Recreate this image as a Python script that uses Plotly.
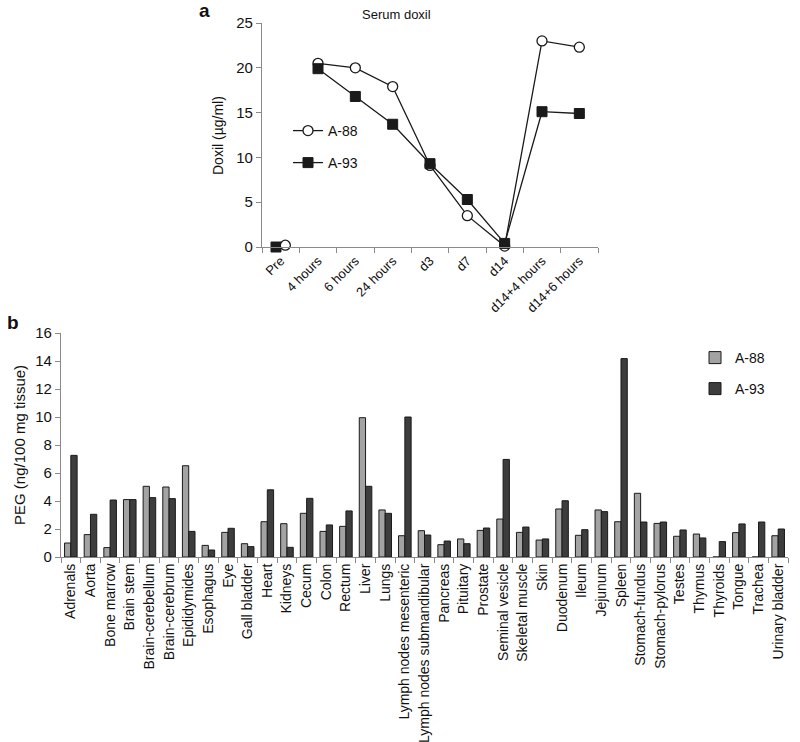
import plotly.graph_objects as go

# ---- Panel a: serum doxil ----
time_points = ["Pre", "4 hours", "6 hours", "24 hours", "d3", "d7", "d14",
               "d14+4 hours", "d14+6 hours"]
serum_a88 = [0.2, 20.5, 20.0, 17.9, 9.1, 3.5, 0.1, 23.0, 22.3]
serum_a93 = [0.0, 19.9, 16.8, 13.7, 9.3, 5.3, 0.4, 15.1, 14.9]

# ---- Panel b: PEG in tissues ----
tissues = ["Adrenals", "Aorta", "Bone marrow", "Brain stem", "Brain-cerebellum",
           "Brain-cerebrum", "Epididymides", "Esophagus", "Eye", "Gall bladder",
           "Heart", "Kidneys", "Cecum", "Colon", "Rectum", "Liver", "Lungs",
           "Lymph nodes mesenteric", "Lymph nodes submandibular", "Pancreas",
           "Pituitary", "Prostate", "Seminal vesicle", "Skeletal muscle", "Skin",
           "Duodenum", "Ileum", "Jejunum", "Spleen", "Stomach-fundus",
           "Stomach-pylorus", "Testes", "Thymus", "Thyroids", "Tongue", "Trachea",
           "Urinary bladder"]
peg_a88 = [1.0, 1.6, 0.67, 4.1, 5.05, 5.0, 6.52, 0.83, 1.76, 0.95,
           2.52, 2.38, 3.12, 1.83, 2.19, 9.95, 3.36, 1.52, 1.88, 0.88,
           1.29, 1.9, 2.71, 1.76, 1.21, 3.43, 1.55, 3.36, 2.52, 4.55,
           2.4, 1.48, 1.64, 0.0, 1.74, 0.0, 1.52]
peg_a93 = [7.26, 3.05, 4.07, 4.1, 4.24, 4.17, 1.83, 0.5, 2.05, 0.74,
           4.8, 0.69, 4.19, 2.29, 3.29, 5.05, 3.12, 10.0, 1.57, 1.14,
           0.95, 2.07, 6.97, 2.14, 1.29, 4.02, 1.95, 3.24, 14.17, 2.5,
           2.5, 1.93, 1.36, 1.1, 2.36, 2.5, 2.0]

FONT = "Liberation Sans, Arial, sans-serif"
AXIS_GRAY = "#8a8a8a"
LINE_COL = "#1a1a1a"
TXT = "#111111"

fig = go.Figure()

# panel a lines (Pre point is not joined to the rest)
fig.add_trace(go.Scatter(
    x=time_points[1:], y=serum_a88[1:], mode="lines+markers", name="A-88",
    line=dict(color=LINE_COL, width=1.3),
    marker=dict(symbol="circle", size=10, color="white",
                line=dict(color=LINE_COL, width=1.3)),
    xaxis="x", yaxis="y", cliponaxis=False, legend="legend",
    alignmentgroup="main", offsetgroup="main"))
fig.add_trace(go.Scatter(
    x=time_points[1:], y=serum_a93[1:], mode="lines+markers", name="A-93",
    line=dict(color=LINE_COL, width=1.3),
    marker=dict(symbol="square", size=10, color=LINE_COL,
                line=dict(color=LINE_COL, width=1)),
    xaxis="x", yaxis="y", cliponaxis=False, legend="legend2",
    alignmentgroup="main", offsetgroup="main"))
fig.add_trace(go.Scatter(
    x=time_points[:1], y=serum_a93[:1], mode="markers", showlegend=False,
    marker=dict(symbol="square", size=10, color=LINE_COL,
                line=dict(color=LINE_COL, width=1)),
    xaxis="x", yaxis="y", cliponaxis=False,
    alignmentgroup="pre", offsetgroup="pre1"))
fig.add_trace(go.Scatter(
    x=time_points[:1], y=serum_a88[:1], mode="markers", showlegend=False,
    marker=dict(symbol="circle", size=10, color="white",
                line=dict(color=LINE_COL, width=1.3)),
    xaxis="x", yaxis="y", cliponaxis=False,
    alignmentgroup="pre", offsetgroup="pre2"))

# panel b bars
fig.add_trace(go.Bar(
    x=tissues, y=peg_a88, name="A-88",
    marker=dict(color="#a3a3a3", line=dict(color="#1a1a1a", width=1)),
    xaxis="x2", yaxis="y2", legend="legend3"))
fig.add_trace(go.Bar(
    x=tissues, y=peg_a93, name="A-93",
    marker=dict(color="#3d3d3d", line=dict(color="#1a1a1a", width=1)),
    xaxis="x2", yaxis="y2", legend="legend4"))

axis_common = dict(showgrid=False, zeroline=False, showline=True,
                   automargin=False,
                   linecolor=AXIS_GRAY, linewidth=1.2, ticks="outside",
                   tickcolor=AXIS_GRAY, ticklen=5, tickwidth=1.2)

legend_common = dict(bgcolor="rgba(0,0,0,0)", borderwidth=0,
                     font=dict(family=FONT, size=14, color=TXT),
                     xanchor="left", yanchor="middle")

def ann(text, x, y, size, angle=0, bold=False):
    return dict(text=f"<b>{text}</b>" if bold else text,
                x=x/800, y=1-y/742, xref="paper", yref="paper",
                showarrow=False, xanchor="center", yanchor="middle",
                textangle=angle, font=dict(family=FONT, size=size, color=TXT))

fig.update_layout(
    width=800, height=742, autosize=False,
    margin=dict(l=0, r=0, t=0, b=0),
    paper_bgcolor="white", plot_bgcolor="white",
    font=dict(family=FONT, color=TXT),
    barmode="group", bargap=0.36, bargroupgap=0.0,
    scattermode="group", scattergap=0.5,
    xaxis=dict(domain=[262/800, 598/800], anchor="y", type="category",
               categoryorder="array", categoryarray=time_points,
               tickangle=-45, tickson="boundaries",
               tickfont=dict(family=FONT, size=13, color=TXT), **axis_common),
    yaxis=dict(domain=[1-247/742, 1-23/742], anchor="x", range=[0, 25],
               dtick=5, tickfont=dict(family=FONT, size=15, color=TXT),
               **axis_common),
    xaxis2=dict(domain=[61/800, 788/800], anchor="y2", type="category",
                categoryorder="array", categoryarray=tissues,
                tickangle=-90, tickson="boundaries",
                tickfont=dict(family=FONT, size=14, color=TXT), **axis_common),
    yaxis2=dict(domain=[1-557/742, 1-333/742], anchor="x2", range=[0, 16],
                dtick=2, tickfont=dict(family=FONT, size=15, color=TXT),
                **axis_common),
    legend=dict(x=288/800, y=1-131/742, **legend_common),
    legend2=dict(x=288/800, y=1-163/742, **legend_common),
    legend3=dict(x=695/800, y=1-358/742, **legend_common),
    legend4=dict(x=695/800, y=1-389/742, **legend_common),
    annotations=[
        ann("Serum doxil", 396, 15, 13),
        ann("a", 205, 10, 19, bold=True),
        ann("b", 13, 322, 19, bold=True),
        ann("Doxil (µg/ml)", 218, 136, 14, angle=-90),
        ann("PEG (ng/100 mg tissue)", 19, 445, 15, angle=-90),
    ],
)

fig.write_html("out.html",
               config={"displayModeBar": False},
               post_script="document.body.style.margin='0px';"
                           "document.body.style.overflow='hidden';")
